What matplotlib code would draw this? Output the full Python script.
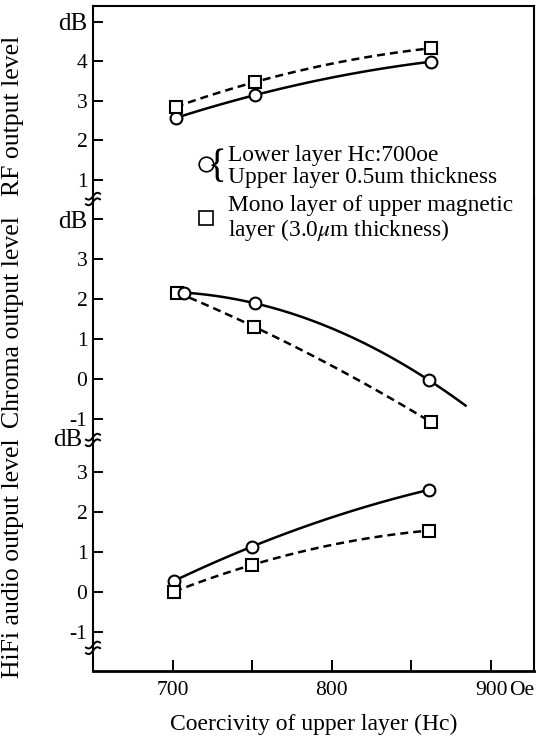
import numpy as np
import matplotlib
matplotlib.use("Agg")
import matplotlib.pyplot as plt
from matplotlib.lines import Line2D

plt.rcParams["font.family"] = ["Liberation Serif", "DejaVu Serif"]
plt.rcParams["mathtext.fontset"] = "stix"

# values (Hc in Oe, levels in dB)
hc_rf = [702, 752, 862]
rf_circle = [2.57, 3.15, 3.99]
rf_square = [2.85, 3.48, 4.33]

hc_chroma_circle = [707, 752, 861]
chroma_circle = [2.16, 1.89, -0.03]
hc_chroma_square = [703, 751, 862]
chroma_square = [2.16, 1.31, -1.07]

hc_hifi = [701, 750, 861]
hifi_circle = [0.27, 1.13, 2.55]
hifi_square = [0.0, 0.67, 1.53]

W, H = 549, 736
LW = 1.8
DASH = (0, (3.2, 2.0))
TXT = 16.8
TICK = 15.5
DB = 18


def fig_xy(x, y):
    # pixel position -> figure fraction
    return x / W, 1 - y / H


def panel(top, bottom):
    ax = fig.add_axes([93 / W, 1 - bottom / H, (534 - 93) / W, (bottom - top) / H])
    ax.h_px = bottom - top
    return ax


def curve(ax, x, y, ls, marker, x_end=None):
    coef = np.polyfit(x, y, 2)
    xs = np.linspace(x[0], x[-1] if x_end is None else x_end, 120)
    ax.plot(xs, np.polyval(coef, xs), color="black", lw=LW, ls=ls, zorder=2)
    ax.plot(x, y, ls="none", marker=marker, ms=8.5, mfc="white", mec="black",
            mew=1.5, zorder=3)


def break_mark(ax, yb):
    y0, y1 = ax.get_ylim()
    ya = (yb - y0) / (y1 - y0)
    t = np.linspace(-1, 1, 40)
    dx = 7 * t
    dy = 2.0 * np.sin(np.pi * t) + 2.5 * t
    for off in (-2.8, 2.8):
        ax.plot(dx / 441, ya + (dy + off) / ax.h_px, transform=ax.transAxes,
                clip_on=False, color="black", lw=1.4, zorder=4)


fig = plt.figure(figsize=(W / 100, H / 100), dpi=100)
ax_rf = panel(6, 199)
ax_ch = panel(199, 440)
ax_hf = panel(440, 671)

for ax in (ax_rf, ax_ch, ax_hf):
    ax.set_xlim(650, 927)
    for s in ax.spines.values():
        s.set_linewidth(1.5)
    ax.tick_params(axis="y", direction="in", length=7, width=1.4,
                   labelsize=TICK, pad=4, right=False)
    ax.tick_params(axis="x", direction="in", length=8, width=1.4, top=False)
    ax.set_facecolor("none")

ax_rf.spines["bottom"].set_visible(False)
ax_ch.spines["bottom"].set_visible(False)
ax_ch.spines["top"].set_visible(False)
ax_hf.spines["top"].set_visible(False)
ax_hf.spines["bottom"].set_linewidth(2.0)

ax_rf.set_xticks([])
ax_ch.set_xticks([])

# RF
ax_rf.set_ylim(0.52, 5.40)
ax_rf.set_yticks([1, 2, 3, 4, 5], ["1", "2", "3", "4", "dB"])
curve(ax_rf, hc_rf, rf_circle, "-", "o")
curve(ax_rf, hc_rf, rf_square, DASH, "s")

# Chroma
ax_ch.set_ylim(-1.525, 4.5)
ax_ch.set_yticks([-1, 0, 1, 2, 3, 4], ["-1", "0", "1", "2", "3", "dB"])
curve(ax_ch, hc_chroma_square, chroma_square, DASH, "s")
curve(ax_ch, hc_chroma_circle, chroma_circle, "-", "o", x_end=884)

for ax in (ax_rf, ax_ch):
    for lbl in ax.get_yticklabels():
        if lbl.get_text() == "dB":
            lbl.set_fontsize(DB)

# HiFi audio
ax_hf.set_ylim(-1.99, 3.80)
ax_hf.set_yticks([-1, 0, 1, 2, 3], ["-1", "0", "1", "2", "3"])
ax_hf.annotate("dB", xy=(0, 3.8), xycoords=("axes fraction", "data"),
               xytext=(-8, 0), textcoords="offset points", ha="right",
               va="center", fontsize=DB)
curve(ax_hf, hc_hifi, hifi_circle, "-", "o")
curve(ax_hf, hc_hifi, hifi_square, DASH, "s")

ax_hf.set_xticks([700, 800, 900])
ax_hf.set_xticks([750, 850], minor=True)
ax_hf.tick_params(axis="x", which="both", direction="in", length=8, width=1.4,
                  labelsize=TICK, pad=7)
ax_hf.annotate("Oe", xy=(900, 0), xycoords=("data", "axes fraction"),
               xytext=(13, -7), textcoords="offset points", ha="left",
               va="top", fontsize=TICK)
ax_hf.set_xlabel("Coercivity of upper layer (Hc)", fontsize=17, labelpad=10)

# axis break marks on the left spine
break_mark(ax_rf, 0.52)
break_mark(ax_ch, -1.525)
break_mark(ax_hf, -1.41)

# panel titles
fig.text(*fig_xy(13, 116), "RF output level", rotation=90, ha="center",
         va="center", fontsize=18.5)
fig.text(*fig_xy(13, 322), "Chroma output level", rotation=90, ha="center",
         va="center", fontsize=18.5)
fig.text(*fig_xy(13, 558), "HiFi audio output level", rotation=90, ha="center",
         va="center", fontsize=18.5)

# legend
fig.add_artist(Line2D([206 / W], [1 - 164 / H], marker="o", ms=10.5,
                      mfc="white", mec="black", mew=1.2,
                      transform=fig.transFigure))
fig.add_artist(Line2D([206 / W], [1 - 218 / H], marker="s", ms=10.5,
                      mfc="white", mec="black", mew=1.2,
                      transform=fig.transFigure))
fig.text(*fig_xy(217, 167), "{", ha="center", va="center", fontsize=28,
         fontweight="light")
fig.text(*fig_xy(228, 155), "Lower layer Hc:700oe", ha="left", va="center",
         fontsize=TXT)
fig.text(*fig_xy(228, 177), "Upper layer 0.5um thickness", ha="left",
         va="center", fontsize=TXT)
fig.text(*fig_xy(228, 205), "Mono layer of upper magnetic", ha="left",
         va="center", fontsize=TXT)
fig.text(*fig_xy(228, 230), "layer (3.0$\\mu$m thickness)", ha="left",
         va="center", fontsize=TXT)

fig.savefig("out.png", dpi=100)
